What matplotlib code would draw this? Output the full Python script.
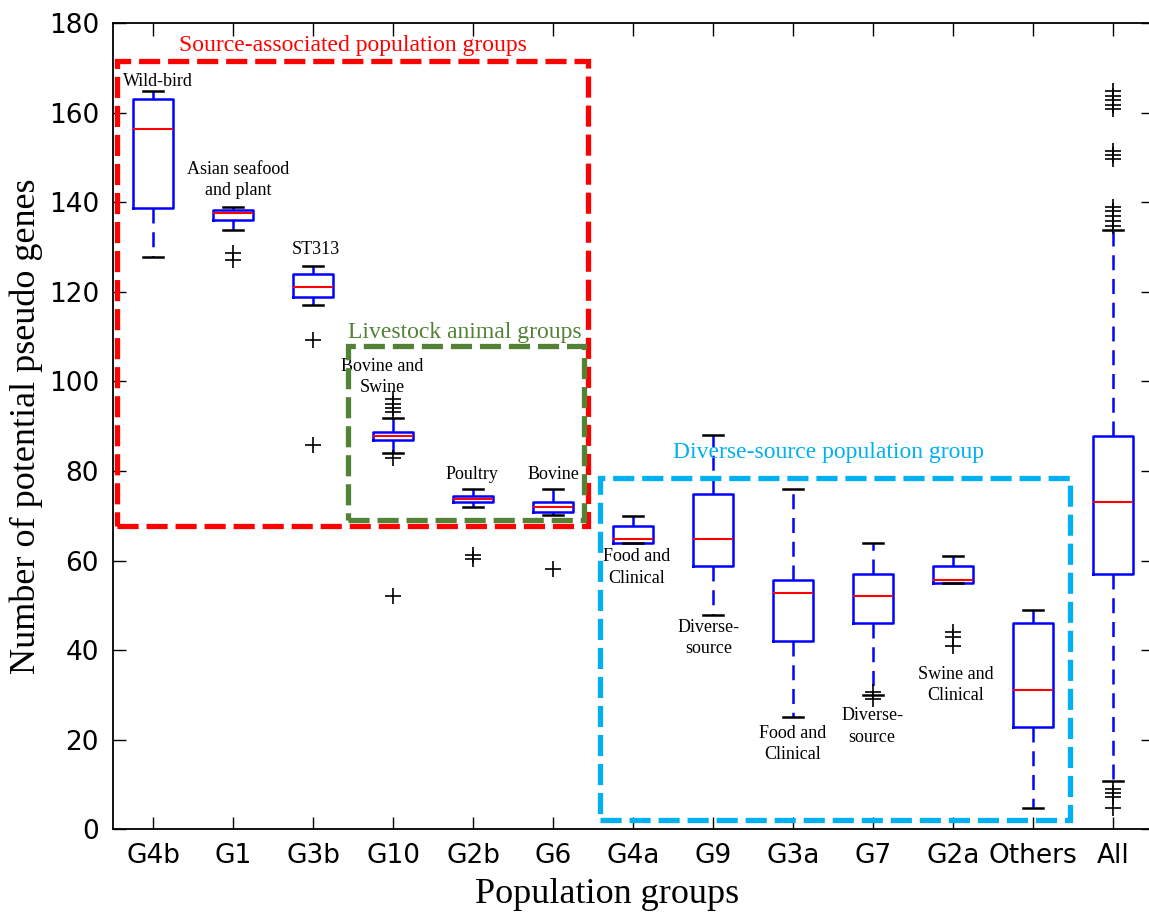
import matplotlib
matplotlib.use("Agg")
import matplotlib.pyplot as plt
from matplotlib.patches import Rectangle

groups = ["G4b", "G1", "G3b", "G10", "G2b", "G6", "G4a", "G9", "G3a", "G7", "G2a", "Others", "All"]
whislo = [127.7, 133.7, 117.0, 84.0, 71.9, 70.2, 64.0, 47.9, 25.1, 29.9, 55.0, 4.8, 10.8]
q1 = [138.7, 136.0, 118.8, 87.0, 73.1, 70.8, 64.0, 58.8, 42.0, 46.0, 55.0, 22.9, 57.0]
med = [156.3, 137.5, 121.0, 87.9, 73.7, 71.9, 64.8, 64.8, 52.8, 52.1, 55.7, 31.0, 73.0]
q3 = [163.0, 138.3, 124.0, 88.8, 74.4, 73.0, 67.7, 74.9, 55.7, 57.0, 58.8, 46.0, 87.8]
whishi = [164.8, 139.0, 125.8, 91.8, 76.0, 76.0, 70.0, 88.0, 75.9, 64.0, 61.0, 49.0, 133.7]
fliers = [
    [],
    [128.7, 127.1],
    [109.3, 85.9],
    [96.1, 95.0, 94.0, 93.1, 82.9, 52.0],
    [61.3, 60.3],
    [58.2],
    [],
    [],
    [],
    [30.6, 29.0],
    [44.0, 43.0, 41.0],
    [],
    [164.8, 163.8, 162.7, 161.7, 160.7, 151.5, 150.6, 149.7,
     139.0, 138.0, 136.9, 135.8, 134.7, 8.9, 8.0, 7.1, 4.75],
]

# notes: text, x, y
notes = [
    ("Wild-bird", 1.06, 167.0),
    ("Asian seafood\nand plant", 2.06, 145.0),
    ("ST313", 3.04, 129.5),
    ("Bovine and\nSwine", 3.87, 101.0),
    ("Poultry", 4.99, 79.3),
    ("Bovine", 6.0, 79.3),
    ("Food and\nClinical", 7.04, 58.5),
    ("Diverse-\nsource", 7.95, 42.7),
    ("Food and\nClinical", 8.99, 19.0),
    ("Diverse-\nsource", 9.99, 23.0),
    ("Swine and\nClinical", 11.03, 32.2),
]

# group frames: title, colour, x0, x1, y0, y1, title x, title y
frames = [
    ("Source-associated population groups", "#ff0000", 0.55, 6.44, 67.7, 171.6, 3.5, 175.0),
    ("Livestock animal groups", "#538135", 3.44, 6.39, 69.0, 107.8, 4.9, 111.0),
    ("Diverse-source population group", "#00b0f0", 6.59, 12.46, 2.1, 78.4, 9.44, 84.2),
]

serif = ["Liberation Serif", "DejaVu Serif"]

fig = plt.figure(figsize=(11.49, 9.14), dpi=100)
ax = fig.add_axes([113 / 1149, 84.7 / 914, 1040 / 1149, 806.3 / 914])

stats = []
for i, g in enumerate(groups):
    stats.append(dict(label=g, whislo=whislo[i], q1=q1[i], med=med[i],
                      q3=q3[i], whishi=whishi[i], fliers=fliers[i]))

ax.bxp(stats, widths=0.5, capwidths=0.25,
       boxprops=dict(color="blue", lw=1.8),
       whiskerprops=dict(color="blue", lw=1.8, linestyle=(0, (6, 3.5))),
       capprops=dict(color="black", lw=1.8),
       medianprops=dict(color="red", lw=1.5),
       flierprops=dict(marker="+", markeredgecolor="black", markersize=11, markeredgewidth=1.2))

for title, col, x0, x1, y0, y1, tx, ty in frames:
    ax.add_patch(Rectangle((x0, y0), x1 - x0, y1 - y0, fill=False, edgecolor=col,
                           lw=3.8, linestyle=(0, (4, 1.5)), zorder=4))
    ax.text(tx, ty, title, color=col, family=serif, fontsize=17, ha="center", va="center")

for txt, x, y in notes:
    ax.text(x, y, txt, family=serif, fontsize=13, ha="center", va="center", linespacing=1.35)

ax.set_xlim(0.5, 13.5)
ax.set_ylim(0, 180)
ax.set_yticks(range(0, 181, 20))
ax.tick_params(direction="in", length=9, width=1, top=True, right=True, labelsize=19, pad=10)
for s in ax.spines.values():
    s.set_linewidth(1.3)

ax.set_xlabel("Population groups", family=serif, fontsize=26, labelpad=6)
ax.xaxis.label.set_x(0.475)
ax.set_ylabel("Number of potential pseudo genes", family=serif, fontsize=26, labelpad=4)

fig.savefig("out.png", dpi=100)
